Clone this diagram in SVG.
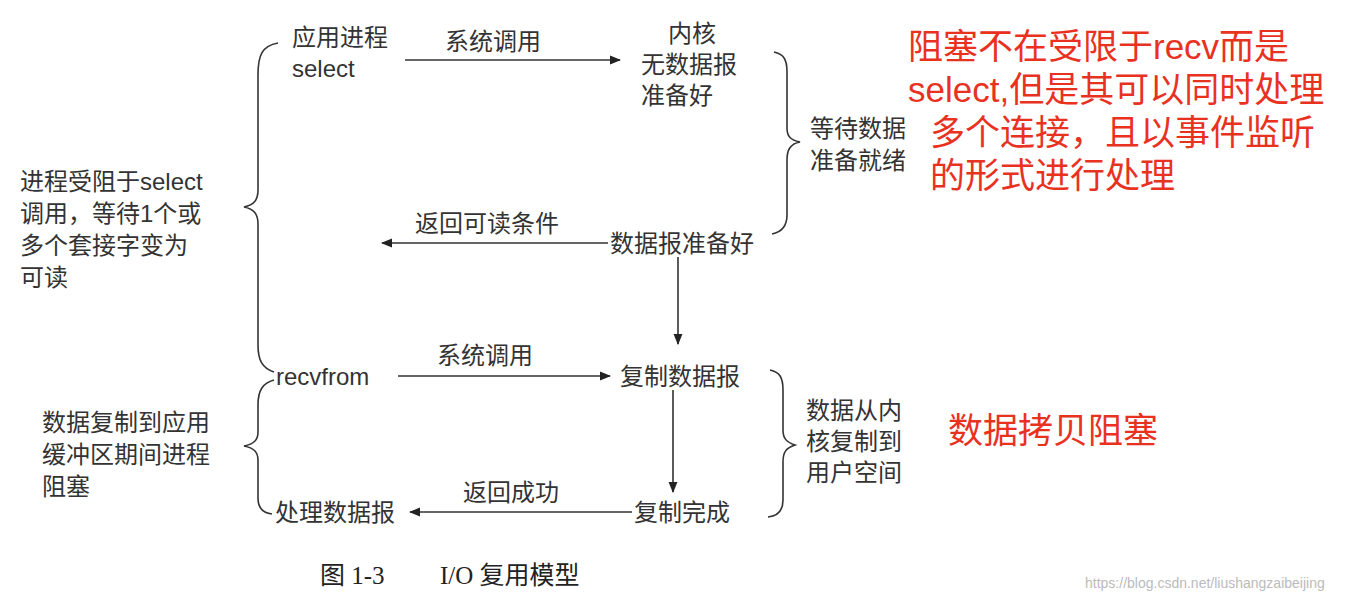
<svg xmlns="http://www.w3.org/2000/svg" width="1364" height="600" viewBox="0 0 1364 600">
<style>
.t{font-family:"Liberation Sans","Noto Sans CJK SC",sans-serif;font-size:24px;fill:#333}
.r{font-family:"Liberation Sans","Noto Sans CJK SC",sans-serif;font-size:35px;fill:#e8321f}
.cap{font-family:"Liberation Serif","Noto Sans CJK SC",serif;font-size:25px;fill:#222}
.w{font-family:"Liberation Sans",sans-serif;font-size:14px;fill:#bbb}
.l{stroke:#333;stroke-width:1.6;fill:none}
</style>
<defs><marker id="a" viewBox="0 0 10 10" refX="9" refY="5" markerWidth="7" markerHeight="7" orient="auto"><path d="M0,1 L10,5 L0,9 z" fill="#222"/></marker></defs>
<rect width="1364" height="600" fill="#fff"/>
<g id="braces">
<path class="l" d="M278,43 C262,46 258,55 258,75 L258,190 C258,200 254,205 244,207 C254,209 258,214 258,224 L258,345 C258,360 262,368 274,372"/>
<path class="l" d="M274,380 C263,383 258,390 258,405 L258,432 C258,440 254,444 244,446 C254,448 258,452 258,460 L258,498 C258,508 263,513 272,514"/>
<path class="l" d="M774,52 C784,54 787,60 787,72 L787,128 C787,136 790,140 800,142 C790,144 787,150 787,160 L787,215 C787,226 782,232 772,234"/>
<path class="l" d="M770,370 C780,372 783,378 783,390 L783,430 C783,438 786,442 795,445 C786,448 783,452 783,462 L783,500 C783,510 778,516 768,517"/>
</g>
<g id="connectors">
<line class="l" x1="405" y1="60" x2="620" y2="60" marker-end="url(#a)"/>
<line class="l" x1="608" y1="243" x2="382" y2="243" marker-end="url(#a)"/>
<line class="l" x1="678" y1="257" x2="678" y2="344" marker-end="url(#a)"/>
<line class="l" x1="398" y1="376" x2="610" y2="376" marker-end="url(#a)"/>
<line class="l" x1="673" y1="390" x2="673" y2="492" marker-end="url(#a)"/>
<line class="l" x1="632" y1="512" x2="410" y2="512" marker-end="url(#a)"/>
</g>
<g id="n1"><text class="t" x="292" y="46">应用进程</text><text class="t" x="292" y="77">select</text></g>
<g id="n2"><text class="t" x="445" y="50">系统调用</text></g>
<g id="n3"><text class="t" x="668" y="42">内核</text><text class="t" x="641" y="73">无数据报</text><text class="t" x="641" y="104">准备好</text></g>
<g id="n4"><text class="t" x="810" y="137">等待数据</text><text class="t" x="810" y="169">准备就绪</text></g>
<g id="n5"><text class="t" x="20" y="190">进程受阻于select</text><text class="t" x="20" y="222">调用，等待1个或</text><text class="t" x="20" y="254">多个套接字变为</text><text class="t" x="20" y="286">可读</text></g>
<g id="n6"><text class="t" x="415" y="232">返回可读条件</text></g>
<g id="n7"><text class="t" x="610" y="252">数据报准备好</text></g>
<g id="n8"><text class="t" x="276" y="385">recvfrom</text></g>
<g id="n9"><text class="t" x="437" y="364">系统调用</text></g>
<g id="n10"><text class="t" x="620" y="385">复制数据报</text></g>
<g id="n11"><text class="t" x="42" y="431">数据复制到应用</text><text class="t" x="42" y="463">缓冲区期间进程</text><text class="t" x="42" y="495">阻塞</text></g>
<g id="n12"><text class="t" x="806" y="419">数据从内</text><text class="t" x="806" y="450">核复制到</text><text class="t" x="806" y="481">用户空间</text></g>
<g id="n13"><text class="t" x="463" y="501">返回成功</text></g>
<g id="n14"><text class="t" x="275" y="521">处理数据报</text></g>
<g id="n15"><text class="t" x="634" y="521">复制完成</text></g>
<g id="notes">
<text class="r" x="908" y="59">阻塞不在受限于recv而是</text>
<text class="r" x="908" y="102">select,但是其可以同时处理</text>
<text class="r" x="930" y="145">多个连接，且以事件监听</text>
<text class="r" x="930" y="188">的形式进行处理</text>
<text class="r" x="948" y="443">数据拷贝阻塞</text>
<text class="cap" x="320" y="584">图 1-3</text>
<text class="cap" x="440" y="584">I/O 复用模型</text>
<text class="w" x="1085" y="588">https://blog.csdn.net/liushangzaibeijing</text>
</g>
</svg>
